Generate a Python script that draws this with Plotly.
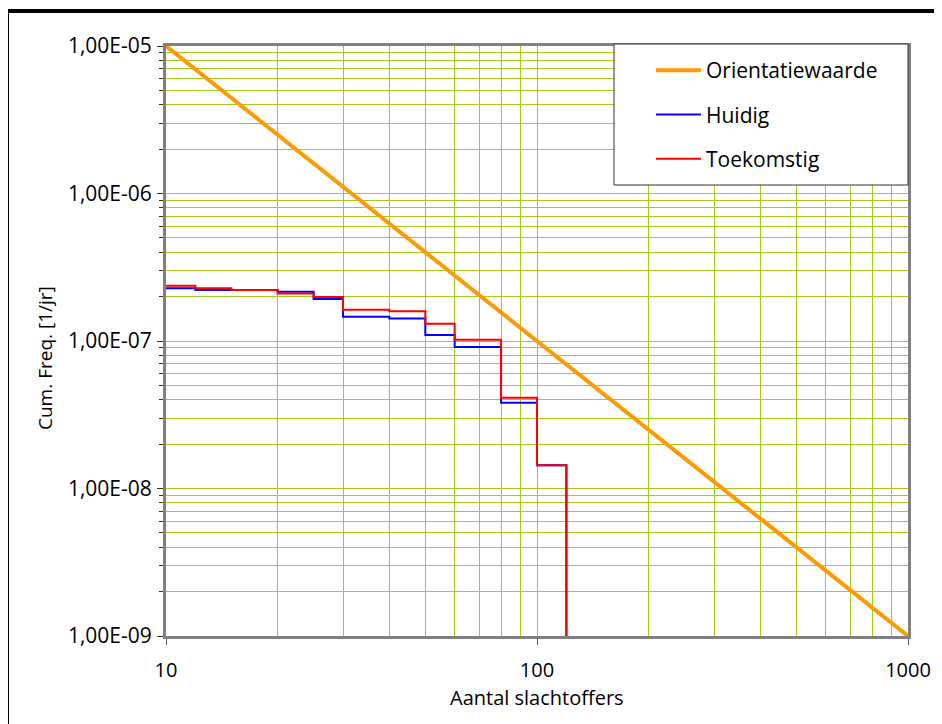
import plotly.graph_objects as go

# ---- data ----
steps_x = [10, 12, 15, 20, 25, 30, 40, 50, 60, 80, 100, 120]
huidig = [2.28e-7, 2.22e-7, 2.22e-7, 2.16e-7, 1.93e-7, 1.46e-7, 1.42e-7, 1.10e-7, 9.1e-8, 3.82e-8, 1.44e-8, 1e-10]
toekomstig = [2.37e-7, 2.28e-7, 2.22e-7, 2.10e-7, 1.99e-7, 1.63e-7, 1.59e-7, 1.31e-7, 1.02e-7, 4.13e-8, 1.44e-8, 1e-10]
orient_x = [10, 1000]
orient_y = [1e-5, 1e-9]

y_tickvals = [1e-9, 1e-8, 1e-7, 1e-6, 1e-5]
y_ticktext = ["1,00E-09", "1,00E-08", "1,00E-07", "1,00E-06", "1,00E-05"]
x_tickvals = [10, 100, 1000]
x_ticktext = ["10", "100", "1000"]

FONT = "Open Sans"
GRID = "#a4cc1a"

y_minor = [m * 10.0 ** e for e in range(-9, -5) for m in range(2, 10)]
x_minor = [m * 10.0 ** e for e in range(1, 3) for m in range(2, 10)]

fig = go.Figure()
fig.add_trace(go.Scatter(x=orient_x, y=orient_y, mode="lines", name="Orientatiewaarde",
                         line=dict(color="#ff9900", width=4), legendgroup="a"))
fig.add_trace(go.Scatter(x=steps_x, y=huidig, mode="lines", name="Huidig", line_shape="hv",
                         line=dict(color="#0000ff", width=2), legendgroup="b"))
fig.add_trace(go.Scatter(x=steps_x, y=toekomstig, mode="lines", name="Toekomstig", line_shape="hv",
                         line=dict(color="#ff0000", width=2), legendgroup="c"))

W, H = 942, 724
OFF = 8  # page body margin
L, T = 158, 38
pw, ph = 742, 590
R = W - L - pw
B = H - T - ph

def px(x):  # page pixel -> paper
    return (x - OFF - L) / pw

def py(y):
    return (T + ph + OFF - y) / ph

fig.update_layout(
    width=W, height=H,
    margin=dict(l=L, r=R, t=T, b=B),
    paper_bgcolor="white", plot_bgcolor="white",
    font=dict(family=FONT, size=21, color="black"),
    showlegend=True,
    legend=dict(x=px(651), y=py(50), xanchor="left", yanchor="top",
                bgcolor="rgba(0,0,0,0)", borderwidth=0,
                tracegroupgap=14, font=dict(size=21, family=FONT), itemwidth=45),
    xaxis=dict(type="log", range=[1, 3], tickvals=x_tickvals, ticktext=x_ticktext,
               tickfont=dict(size=20),
               showgrid=True, gridcolor=GRID, gridwidth=1,
               minor=dict(tickvals=x_minor, showgrid=True, gridcolor=GRID, gridwidth=1, ticks=""),
               ticks="outside", ticklen=6, tickcolor="#555555", ticklabelstandoff=8,
               showline=True, linecolor="#808080", linewidth=3, mirror=True,
               zeroline=False),
    yaxis=dict(type="log", range=[-9, -5], tickvals=y_tickvals, ticktext=y_ticktext,
               showgrid=True, gridcolor=GRID, gridwidth=1,
               minor=dict(tickvals=y_minor, showgrid=True, gridcolor=GRID, gridwidth=1,
                          ticks="outside", ticklen=4, tickcolor="#333333"),
               ticks="outside", ticklen=6, tickcolor="#333333", ticklabelstandoff=1,
               showline=True, linecolor="#808080", linewidth=3, mirror=True,
               zeroline=False),
    annotations=[
        dict(text="Aantal slachtoffers", xref="paper", yref="paper", x=px(537), y=py(697),
             xanchor="center", yanchor="middle", showarrow=False, font=dict(size=20)),
        dict(text="Cum. Freq. [1/jr]", xref="paper", yref="paper", x=px(45), y=py(358),
             xanchor="center", yanchor="middle", showarrow=False, textangle=-90,
             font=dict(size=19)),
    ],
    shapes=[
        dict(type="rect", xref="paper", yref="paper",
             x0=px(614), x1=px(908), y0=py(185), y1=py(44),
             line=dict(color="#333333", width=1), fillcolor="white", layer="above"),
        dict(type="line", xref="paper", yref="paper",
             x0=px(5), x1=px(1100), y0=py(11), y1=py(11),
             line=dict(color="black", width=4), layer="above"),
        dict(type="line", xref="paper", yref="paper",
             x0=px(7), x1=px(7), y0=py(9), y1=py(800),
             line=dict(color="black", width=4), layer="above"),
    ],
)

fig.write_html("out.html")
